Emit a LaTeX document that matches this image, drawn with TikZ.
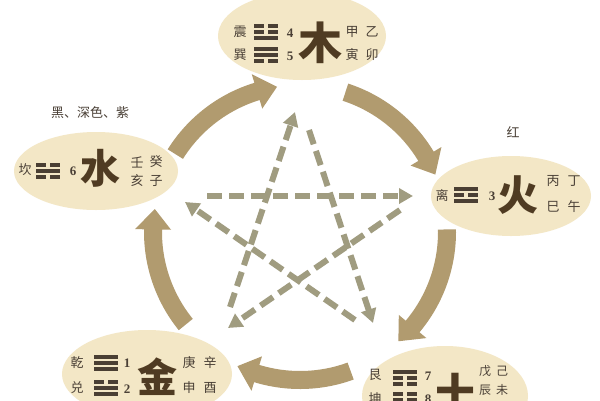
\documentclass[tikz,border=0pt]{standalone}
\usepackage{fontspec}
\newfontfamily\cjk{Noto Sans CJK SC}
\newfontfamily\numf{Liberation Serif}
\usetikzlibrary{arrows.meta,calc,shapes.geometric}
\definecolor{cream}{HTML}{F3E7C6}
\definecolor{arccol}{HTML}{B19B6F}
\definecolor{dashcol}{HTML}{A09C80}
\definecolor{txtcol}{HTML}{4A4036}
\definecolor{bigcol}{HTML}{4F3B22}
\definecolor{guacol}{HTML}{4A3F33}
\newcommand\yao[3]{%
  \ifnum#3=1
    \fill[guacol] ({#1-12},{#2-1.8}) rectangle ({#1+12},{#2+1.8});
  \else
    \fill[guacol] ({#1-12},{#2-1.8}) rectangle ({#1-2.2},{#2+1.8});
    \fill[guacol] ({#1+2.2},{#2-1.8}) rectangle ({#1+12},{#2+1.8});
  \fi}
\newcommand\gua[5]{\yao{#1}{#2-5.8}{#3}\yao{#1}{#2}{#4}\yao{#1}{#2+5.8}{#5}}
% generating arrow along circle round (C): start angle, end angle (screen), radius
\newcommand\genarrow[3]{%
  \fill[arccol] ($(C)+({#1}:{#3+9})$) arc[start angle={#1}, end angle={#2-8}, radius={#3+9}]
    -- ($(C)+({#2-8}:{#3+18})$) -- ($(C)+({#2}:{#3})$) -- ($(C)+({#2-8}:{#3-18})$)
    -- ($(C)+({#2-8}:{#3-9})$) arc[start angle={#2-8}, end angle={#1}, radius={#3-9}] -- cycle;}
\begin{document}
\begin{tikzpicture}[x=1pt,y=-1pt,
  elli/.style={ellipse, fill=cream, inner sep=0pt},
  st/.style={font=\cjk\fontsize{13}{13}\selectfont, text=txtcol, inner sep=0pt},
  et/.style={font=\cjk\fontsize{12}{12}\selectfont, text=txtcol, inner sep=0pt},
  nt/.style={font=\numf\bfseries\fontsize{13}{13}\selectfont, text=txtcol, inner sep=0pt},
  bt/.style={font=\cjk\bfseries\fontsize{44}{44}\selectfont, text=bigcol, inner sep=0pt},
  ke/.style={draw=dashcol, line width=6pt, dash pattern=on 15pt off 7pt,
    -{Triangle[length=14pt,width=15pt]}}]
\useasboundingbox (0,0) rectangle (600,400);
\clip (0,0) rectangle (600,400);
\fill[white] (0,0) rectangle (600,400);
\coordinate (C) at (300,232);
% ellipses
\node[elli, minimum width=168, minimum height=88] (wood) at (302,36) {};
\node[elli, minimum width=164, minimum height=78] (water) at (96,171) {};
\node[elli, minimum width=160, minimum height=80] (fire) at (511,196) {};
\node[elli, minimum width=170, minimum height=88] (metal) at (147,374) {};
\node[elli, minimum width=166, minimum height=100] (earth) at (445,396) {};
% controlling cycle (dashed star)
\coordinate (s1a) at (207,196); \coordinate (s1b) at (413,196);
\coordinate (s2a) at (230,307); \coordinate (s2b) at (295,112);
\coordinate (s3a) at (309,130); \coordinate (s3b) at (373,323);
\coordinate (s4a) at (355,320); \coordinate (s4b) at (185,202);
\coordinate (s5a) at (400,210); \coordinate (s5b) at (228,328);
\draw[ke] (s1a) -- (s1b);
\draw[ke] (s2a) -- (s2b);
\draw[ke] (s3a) -- (s3b);
\draw[ke] (s4a) -- (s4b);
\draw[ke] (s5a) -- (s5b);
% generating cycle
\genarrow{-148}{-99}{147}
\genarrow{-72}{-23}{147}
\genarrow{-1}{48}{147}
\genarrow{70}{115}{148}
\genarrow{141}{189}{147}
% wood
\node[st] (zhen) at (240,32) {震};
\gua{266}{32}{0}{0}{1}
\node[nt] (n4) at (290,33) {4};
\node[st] (xun) at (240,55) {巽};
\gua{266}{55}{1}{1}{0}
\node[nt] (n5) at (290,56) {5};
\node[bt] (mu) at (320,43) {木};
\node[st] (jia) at (352,32) {甲};
\node[st] (yi) at (372,32) {乙};
\node[st] (yin) at (352,55) {寅};
\node[st] (mao) at (372,55) {卯};
% water
\node[st] (cwater) at (90,113) {黑、深色、紫};
\node[st] (kan) at (25,170) {坎};
\gua{48}{171}{0}{1}{0}
\node[nt] (n6) at (73,171) {6};
\node[bt, font=\cjk\bfseries\fontsize{40}{40}\selectfont] (shui) at (100,168) {水};
\node[st] (ren) at (137,162) {壬};
\node[st] (gui) at (156,162) {癸};
\node[st] (hai) at (137,181) {亥};
\node[st] (zi) at (156,181) {子};
% fire
\node[st] (cfire) at (513,132) {红};
\node[st] (li) at (442,196) {离};
\gua{466}{195}{1}{0}{1}
\node[nt] (n3) at (492,196) {3};
\node[bt, font=\cjk\bfseries\fontsize{41}{41}\selectfont] (huo) at (518,195) {火};
\node[st] (bing) at (553,181) {丙};
\node[st] (ding) at (574,181) {丁};
\node[st] (si) at (553,207) {巳};
\node[st] (wu) at (574,207) {午};
% metal
\node[st] (qian) at (77,363) {乾};
\gua{106}{363}{1}{1}{1}
\node[nt] (n1) at (127,363) {1};
\node[st] (dui) at (77,388) {兑};
\gua{106}{388}{0}{1}{1}
\node[nt] (n2) at (127,389) {2};
\node[bt, font=\cjk\bfseries\fontsize{40}{40}\selectfont] (jin) at (157,377) {金};
\node[st] (geng) at (189,363) {庚};
\node[st] (xin) at (210,363) {辛};
\node[st] (shen) at (189,388) {申};
\node[st] (you) at (210,388) {酉};
% earth
\node[st] (gen) at (375,375) {艮};
\gua{405}{378}{1}{0}{0}
\node[nt] (n7) at (428,376) {7};
\node[st] (kun) at (375,399) {坤};
\gua{405}{400}{0}{0}{0}
\node[nt] (n8) at (428,399) {8};
\node[bt, font=\cjk\bfseries\fontsize{46}{46}\selectfont] (tu) at (455,394) {土};
\node[et] (wuu) at (485,371) {戊};
\node[et] (ji) at (502,371) {己};
\node[et] (chen) at (485,390) {辰};
\node[et] (wei) at (502,390) {未};
\end{tikzpicture}
\end{document}
